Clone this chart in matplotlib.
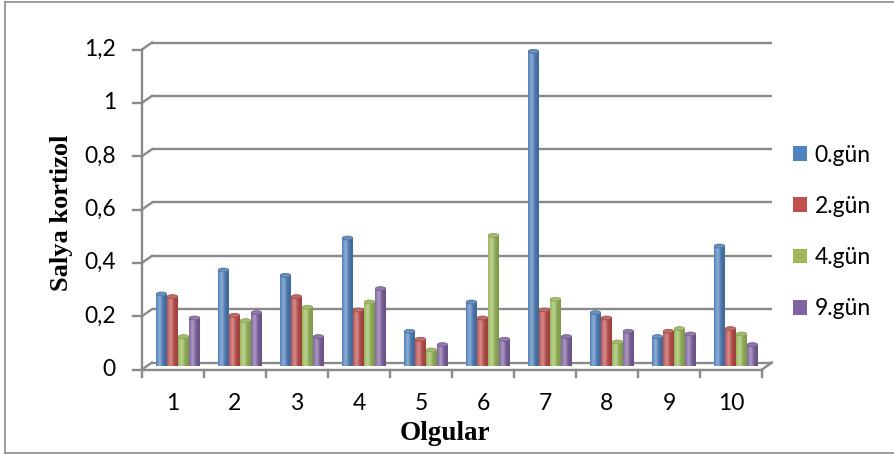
import matplotlib
matplotlib.use('Agg')
import matplotlib.pyplot as plt
import numpy as np
from matplotlib.patches import Patch, Ellipse
from matplotlib.lines import Line2D

# ---- data ----
cases = ['1', '2', '3', '4', '5', '6', '7', '8', '9', '10']
series = ['0.gün', '2.gün', '4.gün', '9.gün']
gun0 = [0.27, 0.36, 0.34, 0.48, 0.13, 0.24, 1.18, 0.20, 0.11, 0.45]
gun2 = [0.26, 0.19, 0.26, 0.21, 0.10, 0.18, 0.21, 0.18, 0.13, 0.14]
gun4 = [0.11, 0.17, 0.22, 0.24, 0.06, 0.49, 0.25, 0.09, 0.14, 0.12]
gun9 = [0.18, 0.20, 0.11, 0.29, 0.08, 0.10, 0.11, 0.13, 0.12, 0.08]
yticks = [0, 0.2, 0.4, 0.6, 0.8, 1.0, 1.2]
ytick_labels = ['0', '0,2', '0,4', '0,6', '0,8', '1', '1,2']
colors = ['#4F81BD', '#C0504D', '#9BBB59', '#8064A2']

plt.rcParams['font.family'] = ['Lato', 'DejaVu Sans']
FS = 16.5

W, H = 895, 455
fig = plt.figure(figsize=(W / 100, H / 100), dpi=100)
ax = fig.add_axes([147 / W, 89 / H, 620 / W, 320 / H])
ax.axis('off')

n = len(cases)
xmin, xmax, ymax = 0.5, n + 0.5, 1.2
pxx = (xmax - xmin) / 620.0   # data units per pixel (x)
pxy = ymax / 320.0            # data units per pixel (y)
dx, dy = 5 * pxx, 3.5 * pxy   # half depth offset

grid_c = '#8a8a8a'
glw = 1.7
# back wall gridlines + diagonals
for y in yticks:
    ax.plot([xmin + dx, xmax + dx], [y + dy, y + dy], color=grid_c, lw=glw, zorder=1,
            clip_on=False, solid_capstyle='butt')
    ax.plot([xmin - dx, xmin + dx], [y - dy, y + dy], color=grid_c, lw=glw, zorder=1,
            clip_on=False)
    ax.plot([xmin - dx - 9 * pxx, xmin - dx], [y - dy, y - dy], color=grid_c, lw=glw,
            zorder=1, clip_on=False)
for y, lab in zip(yticks, ytick_labels):
    ax.annotate(lab, xy=(xmin - dx, y - dy), xytext=(-26 * 0.72, 0),
                textcoords='offset points', ha='right', va='center', fontsize=FS,
                color='#000000', annotation_clip=False)
# front axis
ax.plot([xmin - dx, xmin - dx], [-dy, ymax - dy], color=grid_c, lw=glw, zorder=1, clip_on=False)
# front floor line
ax.plot([xmin - dx, xmax - dx], [-dy, -dy], color=grid_c, lw=glw, zorder=1, clip_on=False)
ax.plot([xmax - dx, xmax + dx], [-dy, dy], color=grid_c, lw=glw, zorder=1, clip_on=False)
# category ticks
for b in np.arange(xmin, xmax + 0.01, 1.0):
    ax.plot([b - dx, b - dx], [-dy, -dy - 7 * pxy], color=grid_c, lw=glw, zorder=1,
            clip_on=False)
for i, lab in enumerate(cases):
    ax.annotate(lab, xy=(i + 1 - dx, -dy), xytext=(0, -34 * 0.72),
                textcoords='offset points', ha='center', va='center', fontsize=FS,
                annotation_clip=False)

# bars (cylinder look)
step = 11 * pxx
bw = 10.5 * pxx
t = np.linspace(0, 1, 48)
s = np.exp(-((t - 0.33) / 0.24) ** 2)
edge = 0.82 + 0.14 * (1 - t)
ell_h = 4 * pxy
for j, (vals, col) in enumerate(zip([gun0, gun2, gun4, gun9], colors)):
    c = np.array(matplotlib.colors.to_rgb(col))
    grad = np.clip(c[None, :] * (edge[:, None] + (1 - edge[:, None]) * s[:, None])
                   + (1 - c[None, :]) * 0.32 * s[:, None], 0, 1)
    img = grad[None, :, :]
    xs = np.arange(1, n + 1) + (j - 1.5) * step
    bars = ax.bar(xs, vals, width=bw, color=col, zorder=3, linewidth=0)
    top_c = np.clip(c * 0.92 + (1 - c) * 0.2, 0, 1)
    for rect in bars:
        x0 = rect.get_x()
        h = rect.get_height()
        im = ax.imshow(img, extent=(x0, x0 + bw, 0, h), aspect='auto', zorder=3.1,
                       interpolation='bilinear')
        im.set_clip_path(rect)
        ax.add_patch(Ellipse((x0 + bw / 2, h), bw, ell_h, facecolor=top_c,
                             edgecolor=c * 0.85, lw=0.5, zorder=3.2))
        ax.add_patch(Ellipse((x0 + bw / 2, 0), bw, ell_h, facecolor=c * 0.85,
                             edgecolor='none', zorder=2.9))

ax.set_xlim(xmin, xmax)
ax.set_ylim(0, ymax)

# legend
handles = [Patch(facecolor=c, edgecolor='none') for c in colors]
fig.legend(handles, series, loc='upper left', bbox_to_anchor=(793 / W, 1 - 144.5 / H),
           frameon=False, fontsize=FS, handlelength=0.62, handleheight=0.62,
           handletextpad=0.32, labelspacing=1.32, borderpad=0, borderaxespad=0)

# axis titles
fig.text(62 / W, 1 - 213 / H, 'Salya kortizol', rotation=90, ha='center', va='center',
         fontsize=19, fontweight='bold', family='Liberation Serif')
fig.text(445 / W, 1 - 434 / H, 'Olgular', ha='center', va='center',
         fontsize=19.5, fontweight='bold', family='Liberation Serif')

# outer frame
bc = '#8c8c8c'
fig.add_artist(Line2D([5 / W, 5 / W], [1 - 2 / H, 1 - 453 / H], color=bc, lw=1.2,
                      transform=fig.transFigure))
fig.add_artist(Line2D([5 / W, 1], [1 - 2 / H, 1 - 2 / H], color=bc, lw=1.2,
                      transform=fig.transFigure))
fig.add_artist(Line2D([5 / W, 1], [1 - 453 / H, 1 - 453 / H], color=bc, lw=1.2,
                      transform=fig.transFigure))

fig.savefig('out.png', dpi=100)
